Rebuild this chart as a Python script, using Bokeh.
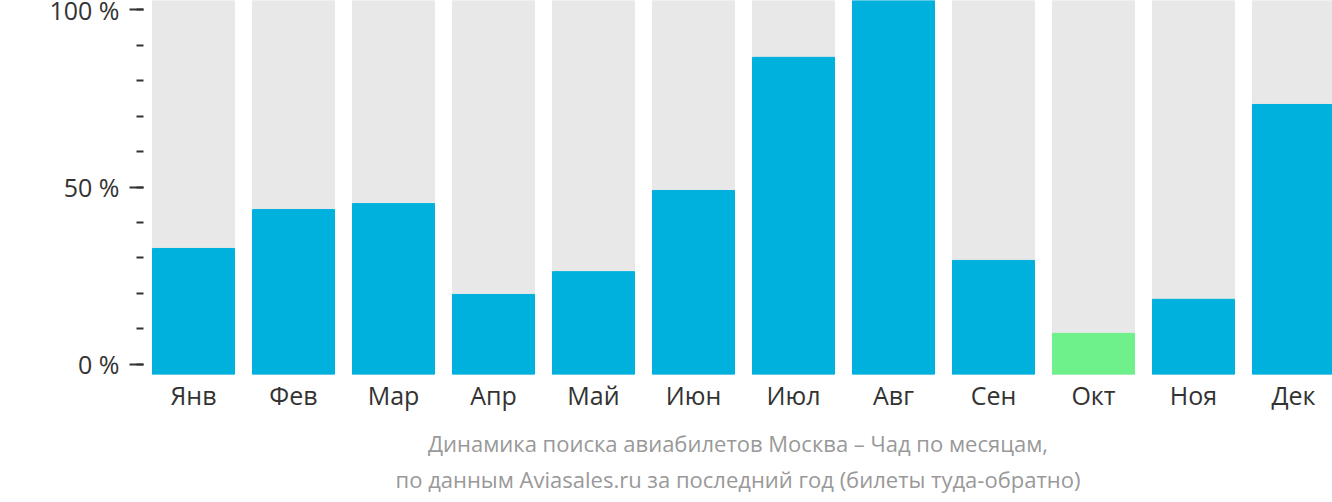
from bokeh.plotting import figure
from bokeh.models import (Range1d, LinearAxis, SingleIntervalTicker, FixedTicker,
                          PrintfTickFormatter, ColumnDataSource)
from bokeh.embed import file_html
from bokeh.resources import INLINE

months = ["Янв", "Фев", "Мар", "Апр", "Май", "Июн", "Июл", "Авг", "Сен", "Окт", "Ноя", "Дек"]
values = [33.7, 44.1, 45.7, 21.4, 27.5, 49.2, 84.8, 100, 30.5, 11.0, 20.1, 72.2]
bar_colors = ["#00b1dd"] * 9 + ["#6ef08a"] + ["#00b1dd"] * 2
full = [100] * 12
title_lines = ["Динамика поиска авиабилетов Москва – Чад по месяцам,",
               "по данным Aviasales.ru за последний год (билеты туда-обратно)"]

FONT = "Open Sans"
TICK_FS = "25px"
TITLE_FS = "22px"
HIDDEN_TOP = 20  # canvas space above the page edge so the top tick label is not pushed down

x = list(range(len(months)))
src = ColumnDataSource(dict(x=x, v=values, full=full, c=bar_colors))

p = figure(frame_width=1189, frame_height=374, output_backend="svg", toolbar_location=None,
           x_range=Range1d(-0.5, 11.39), y_range=Range1d(0, 100),
           y_axis_location=None, x_axis_location="below",
           min_border_left=143, min_border_right=0, min_border_top=HIDDEN_TOP,
           min_border_bottom=108,
           background_fill_color="white", border_fill_color="white", outline_line_color=None)
p.margin = (-HIDDEN_TOP, 0, 0, 0)
p.grid.visible = False

p.vbar(x="x", top="full", bottom=0, width=0.82, color="#e8e8e8", source=src)
p.vbar(x="x", top="v", bottom=0, width=0.82, color="c", source=src)

p.extra_y_ranges = {"pct": Range1d(-2.82, 102.54)}
yax = LinearAxis(y_range_name="pct",
                 ticker=SingleIntervalTicker(interval=50, num_minor_ticks=5),
                 formatter=PrintfTickFormatter(format="%d %%"))
yax.axis_line_color = None
yax.major_tick_out = 14
yax.major_tick_in = 0
yax.minor_tick_out = 7
yax.minor_tick_in = 0
yax.major_tick_line_width = 2
yax.minor_tick_line_width = 2
yax.major_tick_line_color = "#333333"
yax.minor_tick_line_color = "#333333"
yax.major_label_standoff = 10
yax.major_label_text_font = FONT
yax.major_label_text_font_size = TICK_FS
yax.major_label_text_color = "#333333"
p.add_layout(yax, "left")


def style_title(ax, text, standoff):
    ax.axis_label = text
    ax.axis_label_standoff = standoff
    ax.axis_label_text_font = FONT
    ax.axis_label_text_font_size = TITLE_FS
    ax.axis_label_text_font_style = "normal"
    ax.axis_label_text_color = "#999999"


xax = p.xaxis[0]
xax.ticker = FixedTicker(ticks=x)
xax.major_label_overrides = {i: m for i, m in enumerate(months)}
xax.axis_line_color = None
xax.major_tick_line_color = None
xax.minor_tick_line_color = None
xax.major_tick_out = 0
xax.major_tick_in = 0
xax.major_label_standoff = 3
xax.major_label_text_font = FONT
xax.major_label_text_font_size = TICK_FS
xax.major_label_text_color = "#333333"
style_title(xax, title_lines[0], 13)

xax2 = LinearAxis(ticker=FixedTicker(ticks=[]))
xax2.axis_line_color = None
xax2.major_tick_line_color = None
xax2.minor_tick_line_color = None
xax2.major_tick_out = 0
xax2.major_tick_in = 0
xax2.minor_tick_out = 0
style_title(xax2, title_lines[1], 3)
p.add_layout(xax2, "below")

open("out.html", "w").write(file_html(p, INLINE))
